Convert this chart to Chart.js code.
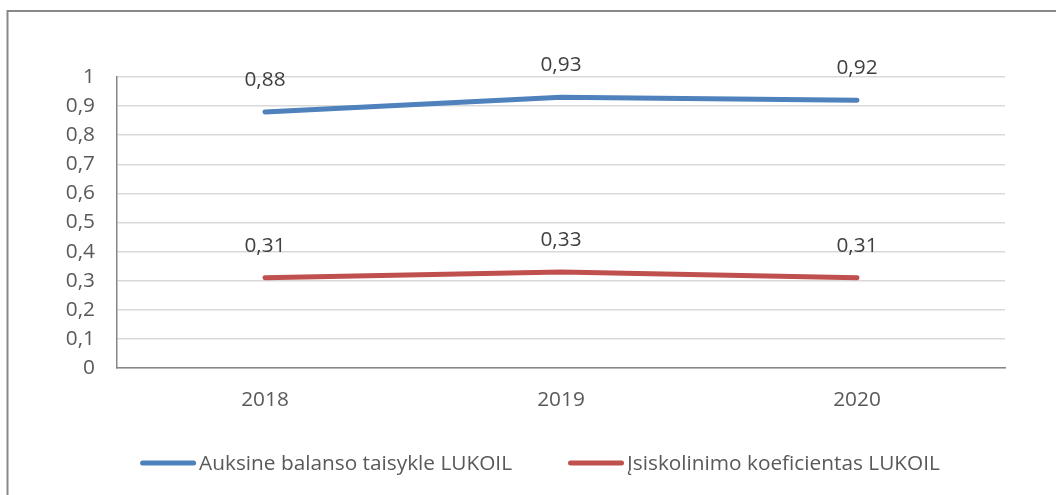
<!DOCTYPE html>
<html>
<head>
<meta charset="utf-8">
<script src="https://cdn.jsdelivr.net/npm/chart.js@4/dist/chart.umd.min.js"></script>
<style>
html,body{margin:0;padding:0;background:#fff;}
#wrap{position:absolute;left:0;top:0;width:1056px;height:495px;}
</style>
</head>
<body>
<div id="wrap"><canvas id="c" width="1056" height="495"></canvas></div>
<script>
const categories = ['2018', '2019', '2020'];
const goldenRuleValues = [0.88, 0.93, 0.92];
const debtRatioValues = [0.31, 0.33, 0.31];
const seriesNames = ['Auksine balanso taisykle LUKOIL', 'Įsiskolinimo koeficientas LUKOIL'];
const seriesColors = ['#4F81BD', '#C0504D'];

const FONT = '"Open Sans", sans-serif';
const FSIZE = 20.8;
const fmt = v => String(Math.round(v * 100) / 100).replace('.', ',');

const frame = {
  id: 'frame',
  beforeDraw(chart) {
    const ctx = chart.ctx;
    ctx.save();
    ctx.strokeStyle = '#888888';
    ctx.lineWidth = 2;
    ctx.strokeRect(7.5, 11, 1100, 600);
    ctx.restore();
  }
};

const dataLabels = {
  id: 'dataLabels',
  afterDatasetsDraw(chart) {
    const ctx = chart.ctx;
    ctx.save();
    ctx.font = FSIZE + 'px ' + FONT;
    ctx.fillStyle = '#404040';
    ctx.textAlign = 'center';
    ctx.textBaseline = 'middle';
    chart.data.datasets.forEach((ds, i) => {
      const meta = chart.getDatasetMeta(i);
      meta.data.forEach((pt, j) => {
        ctx.fillText(fmt(ds.data[j]), pt.x, pt.y - 32);
      });
    });
    ctx.restore();
  }
};

const customLegend = {
  id: 'customLegend',
  afterDraw(chart) {
    const ctx = chart.ctx;
    ctx.save();
    ctx.font = FSIZE + 'px ' + FONT;
    ctx.textBaseline = 'middle';
    const lineLen = 56, gap = 3, spacing = 56, y = 463;
    const items = chart.data.datasets.map(ds => ({
      label: ds.label, color: ds.borderColor, w: lineLen + gap + ctx.measureText(ds.label).width
    }));
    const total = items.reduce((s, it) => s + it.w, 0) + spacing * (items.length - 1);
    let x = 540 - total / 2;
    items.forEach(it => {
      ctx.strokeStyle = it.color;
      ctx.lineWidth = 5;
      ctx.lineCap = 'round';
      ctx.beginPath();
      ctx.moveTo(x + 2.5, y);
      ctx.lineTo(x + lineLen - 2.5, y);
      ctx.stroke();
      ctx.fillStyle = '#595959';
      ctx.textAlign = 'left';
      ctx.fillText(it.label, x + lineLen + gap, y + 1);
      x += it.w + spacing;
    });
    ctx.restore();
  }
};

new Chart(document.getElementById('c'), {
  type: 'line',
  data: {
    labels: categories,
    datasets: [
      { label: seriesNames[0], data: goldenRuleValues, borderColor: seriesColors[0], backgroundColor: seriesColors[0],
        borderWidth: 5, pointRadius: 0, borderCapStyle: 'round', borderJoinStyle: 'round', tension: 0 },
      { label: seriesNames[1], data: debtRatioValues, borderColor: seriesColors[1], backgroundColor: seriesColors[1],
        borderWidth: 5, pointRadius: 0, borderCapStyle: 'round', borderJoinStyle: 'round', tension: 0 }
    ]
  },
  options: {
    responsive: false,
    animation: false,
    devicePixelRatio: 1,
    layout: { padding: { left: 0, right: 51, top: 77, bottom: 0 } },
    plugins: { legend: { display: false }, tooltip: { enabled: false } },
    scales: {
      x: {
        offset: true,
        grid: { display: false, drawTicks: false },
        border: { display: true, color: '#868686', width: 1.5 },
        ticks: { color: '#595959', font: { family: FONT, size: FSIZE }, padding: 20, maxRotation: 0 },
        afterFit(s) { s.height = 127; }
      },
      y: {
        min: 0, max: 1,
        grid: { color: '#D9D9D9', lineWidth: 1.5, drawTicks: false },
        border: { display: true, color: '#868686', width: 1.5 },
        ticks: { stepSize: 0.1, color: '#595959', font: { family: FONT, size: FSIZE }, padding: 22,
          callback: v => fmt(v) },
        afterFit(s) { s.width = 117; }
      }
    }
  },
  plugins: [frame, dataLabels, customLegend]
});
</script>
</body>
</html>
